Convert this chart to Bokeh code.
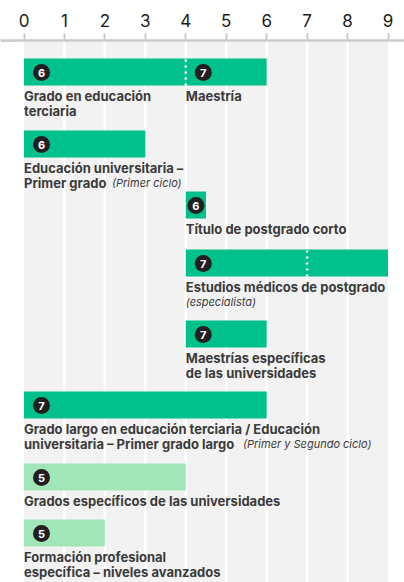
from bokeh.plotting import figure
from bokeh.models import Range1d, FixedTicker, ColumnDataSource
from bokeh.core.properties import value
from bokeh.embed import file_html
from bokeh.resources import INLINE

# ---- data ----
ticks = [0, 1, 2, 3, 4, 5, 6, 7, 8, 9]
seg_label = [
    "Grado en educación\nterciaria",
    "Maestría",
    "Educación universitaria –\nPrimer grado",
    "Título de postgrado corto",
    "Estudios médicos de postgrado",
    "Maestrías específicas\nde las universidades",
    "Grado largo en educación terciaria / Educación\nuniversitaria – Primer grado largo",
    "Grados específicos de las universidades",
    "Formación profesional\nespecífica – niveles avanzados",
]
seg_note = ["", "", "(Primer ciclo)", "", "(especialista)", "", "(Primer y Segundo ciclo)", "", ""]
seg_row = [0, 0, 1, 2, 3, 4, 5, 6, 7]
seg_start = [0, 4, 0, 4, 4, 4, 0, 0, 0]
seg_end = [4, 6, 3, 4.5, 9, 6, 6, 4, 2]
seg_level = [6, 7, 6, 6, 7, 7, 7, 5, 5]
divider_row = [0, 3]
divider_x = [4, 7]

# ---- layout (pixels) ----
W, H = 404, 582
AXIS_Y = 40
BOTTOM_Y = H
ROW_TOP = [58, 130, 191, 249, 320, 391, 463, 519]
BAR_H = 27
LINE_H = 15
LABEL_DY = 10
NOTE_DX = [0, 0, 88, 0, 0, 0, 219, 0, 0]
NOTE_LINE = [0, 0, 1, 0, 1, 0, 1, 0, 0]
LEFT_PX, RIGHT_PX = 23.5, 16.5
PXU = (W - LEFT_PX - RIGHT_PX) / 9.0
BADGE_DX = 17.5

GREEN = "#00c08b"
LIGHT = "#a0e6b8"
GRAY_BG = "#f2f2f2"
TXT = "#3b3b3b"
FONT = "Inter"

x0 = -LEFT_PX / PXU
x1 = 9 + RIGHT_PX / PXU

p = figure(width=W, height=H, output_backend="svg", toolbar_location=None,
           x_axis_location="above", y_axis_location=None,
           x_range=Range1d(x0, x1), y_range=Range1d(BOTTOM_Y, AXIS_Y),
           min_border_top=AXIS_Y, min_border_left=0, min_border_right=0, min_border_bottom=0)
p.outline_line_color = None
p.grid.visible = False
p.background_fill_color = "white"

ax = p.xaxis[0]
ax.ticker = FixedTicker(ticks=ticks)
ax.axis_line_color = "#cbcbcb"
ax.axis_line_width = 2.5
ax.major_tick_line_color = "#cbcbcb"
ax.major_tick_line_width = 2
ax.major_tick_out = 7
ax.major_tick_in = 0
ax.minor_tick_out = 0
ax.minor_tick_in = 0
ax.major_label_text_font = FONT
ax.major_label_text_font_size = "17px"
ax.major_label_text_font_style = "normal"
ax.major_label_text_color = "#1c1c1c"
ax.major_label_standoff = 7

# background columns
p.quad(left=[ticks[0]], right=[ticks[-1]], bottom=[BOTTOM_Y], top=[AXIS_Y], color=GRAY_BG, line_color=None)
inner = ticks[1:-1]
p.segment(x0=inner, x1=inner, y0=[AXIS_Y] * len(inner), y1=[BOTTOM_Y] * len(inner),
          line_color="white", line_width=2.5)
p.scatter(x=[-11 / PXU, -21 / PXU], y=[AXIS_Y, AXIS_Y], size=3.5, color="#d0d0d0", line_color=None)

tops = [ROW_TOP[r] for r in seg_row]
bottoms = [t + BAR_H for t in tops]
colors = [LIGHT if lv == 5 else GREEN for lv in seg_level]
bx = [s + min(BADGE_DX / PXU, (e - s) / 2) for s, e in zip(seg_start, seg_end)]
src = ColumnDataSource(dict(
    left=seg_start, right=seg_end, top=tops, bottom=bottoms, color=colors,
    bx=bx, by=[t + 14 for t in tops], num=[str(v) for v in seg_level],
))
p.quad(left="left", right="right", top="top", bottom="bottom", color="color", line_color=None, source=src)

# dividers
p.segment(x0=divider_x, x1=divider_x,
          y0=[ROW_TOP[r] + 1 for r in divider_row], y1=[ROW_TOP[r] + BAR_H for r in divider_row],
          line_color="white", line_width=2.5, line_dash="2 4")

p.scatter(x="bx", y="by", size=17, color="#231f20", line_color=None, source=src)
p.text(x="bx", y="by", text="num", text_align="center", text_baseline="middle",
       text_font=value(FONT), text_font_style="bold", text_font_size="11px", text_color="white", source=src)

# labels, one glyph entry per line
lx, ly, lt = [], [], []
for i, lab in enumerate(seg_label):
    for k, line in enumerate(lab.split("\n")):
        lx.append(seg_start[i])
        ly.append(bottoms[i] + LABEL_DY + k * LINE_H)
        lt.append(line)
p.text(x=lx, y=ly, text=lt, text_align="left", text_baseline="middle",
       text_font=value(FONT), text_font_style="bold", text_font_size="13px", text_color=TXT)

for i, note in enumerate(seg_note):
    if note:
        p.text(x=[seg_start[i]], y=[bottoms[i] + LABEL_DY + NOTE_LINE[i] * LINE_H], text=[note],
               x_offset=NOTE_DX[i], text_align="left", text_baseline="middle",
               text_font=value(FONT), text_font_style="italic", text_font_size="11px", text_color=TXT)

open("out.html", "w").write(file_html(p, INLINE))
